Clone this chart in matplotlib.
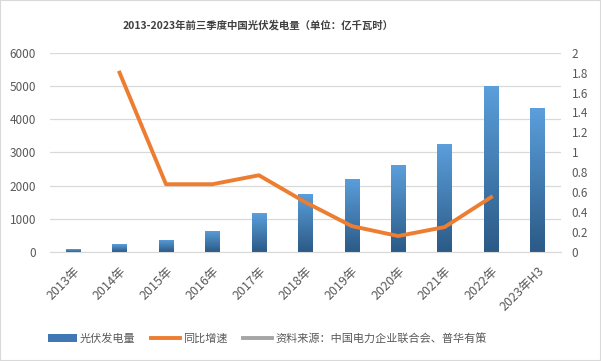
import numpy as np
import matplotlib
matplotlib.use("Agg")
import matplotlib.pyplot as plt
from matplotlib.lines import Line2D
from matplotlib.patches import Patch, Rectangle
from matplotlib.colors import LinearSegmentedColormap

plt.rcParams['font.family'] = ['Noto Sans CJK SC', 'DejaVu Sans']

years = ['2013年', '2014年', '2015年', '2016年', '2017年', '2018年',
         '2019年', '2020年', '2021年', '2022年', '2023年H3']
power = [90, 230, 370, 640, 1160, 1750, 2210, 2610, 3240, 5010, 4330]
growth = [np.nan, 1.80, 0.68, 0.68, 0.77, 0.50, 0.26, 0.16, 0.25, 0.55, np.nan]

title = '2013-2023年前三季度中国光伏发电量（单位：亿千瓦时）'
source = '资料来源：中国电力企业联合会、普华有策'

fig = plt.figure(figsize=(6.01, 3.61), dpi=100)
ax = fig.add_axes([0.083, 0.302, 0.85, 0.552])
ax2 = ax.twinx()

x = np.arange(len(years))
bars = ax.bar(x, power, width=0.31, color='#4a86c5', zorder=2)

# vertical gradient in each bar
cmap = LinearSegmentedColormap.from_list('g', ['#2b5a86', '#5b9fdc'])
grad = np.linspace(0, 1, 256).reshape(-1, 1)
for b in bars:
    bx, by, bw, bh = b.get_x(), b.get_y(), b.get_width(), b.get_height()
    im = ax.imshow(grad, cmap=cmap, origin='lower', aspect='auto',
                   extent=[bx, bx + bw, by, by + bh], zorder=2)
    im.set_clip_path(b)
    b.set_alpha(0)

ax2.plot(x, growth, color='#ed7d31', lw=2.8, zorder=3)

ax.set_xlim(-0.5, len(years) - 0.5)
ax.set_ylim(0, 6000)
ax.set_yticks(range(0, 6001, 1000))
ax2.set_ylim(0, 2)
ax2.set_yticks(np.arange(0, 2.01, 0.2))
ax2.set_yticklabels(['%g' % round(v, 1) for v in np.arange(0, 2.01, 0.2)])

ax.grid(axis='y', color='#d9d9d9', lw=0.9, zorder=0)
ax.set_axisbelow(True)
for a in (ax, ax2):
    for s in a.spines.values():
        s.set_visible(False)
    a.tick_params(length=0, colors='#595959', labelsize=8.5)
ax.spines['bottom'].set_visible(True)
ax.spines['bottom'].set_color('#d9d9d9')
ax.tick_params(axis='y', pad=10)
ax2.tick_params(axis='y', pad=8)

ax.set_xticks(x)
ax.set_xticklabels(years, rotation=45, ha='right', rotation_mode='anchor')
ax.tick_params(axis='x', pad=9, labelsize=9)

fig.text(0.43, 0.93, title, ha='center', va='center', fontsize=7.5,
         fontweight='bold', color='#404040')

handles = [Patch(facecolor='#3f78b4'),
           Line2D([], [], color='#ed7d31', lw=2.8),
           Line2D([], [], color='#a5a5a5', lw=2.8)]
fig.legend(handles, ['光伏发电量', '同比增速', source], loc='center',
           bbox_to_anchor=(0.445, 0.063), ncol=3, frameon=False, fontsize=8,
           handlelength=2.6, columnspacing=1.4, handletextpad=0.3,
           labelcolor='#595959')

fig.patches.append(Rectangle((0, 0), 1, 1, transform=fig.transFigure,
                             fill=False, edgecolor='#d9d9d9', lw=1.5))

fig.savefig('out.png', dpi=100)
